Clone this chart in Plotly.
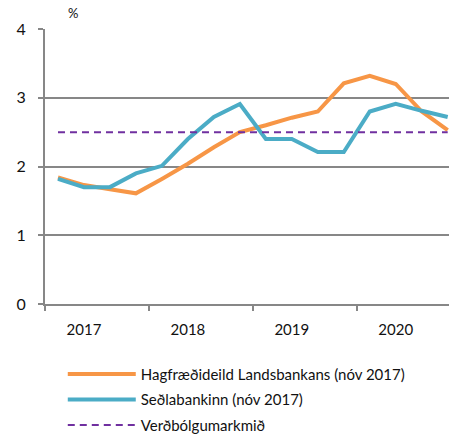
import plotly.graph_objects as go

quarters = list(range(16))  # 2017Q1 .. 2020Q4
year_labels = ["2017", "2018", "2019", "2020"]
year_label_pos = [1, 5, 9, 13]
year_bounds = [-0.5, 3.5, 7.5, 11.5]

landsbankinn = [1.84, 1.73, 1.67, 1.61, 1.82, 2.04, 2.28, 2.50,
                2.60, 2.71, 2.80, 3.21, 3.32, 3.20, 2.80, 2.53]
sedlabankinn = [1.82, 1.70, 1.70, 1.90, 2.01, 2.40, 2.72, 2.91,
                2.40, 2.40, 2.21, 2.21, 2.80, 2.91, 2.81, 2.72]
markmid = [2.5] * 16

names = ["Hagfræðideild Landsbankans (nóv 2017)", "Seðlabankinn (nóv 2017)", "Verðbólgumarkmið"]

FONT = "Lato"
TXT = "#111111"
GRID = "#878787"

fig = go.Figure()
fig.add_trace(go.Scatter(x=quarters, y=landsbankinn, mode="lines", name=names[0],
                         line=dict(color="#F79646", width=4), legendgroup="a"))
fig.add_trace(go.Scatter(x=quarters, y=sedlabankinn, mode="lines", name=names[1],
                         line=dict(color="#4BACC6", width=4), legendgroup="b"))
fig.add_trace(go.Scatter(x=quarters, y=markmid, mode="lines", name=names[2],
                         line=dict(color="#7030A0", width=2, dash="7px,5px"), legendgroup="c"))

fig.update_layout(
    width=449, height=434,
    margin=dict(l=45, r=0, t=29, b=130, autoexpand=False),
    paper_bgcolor="white", plot_bgcolor="white",
    font=dict(family=FONT, size=15, color=TXT),
    showlegend=True,
    legend=dict(x=0.044, xanchor="left", y=-0.195, yanchor="top",
                itemwidth=68, tracegroupgap=3, font=dict(size=15),
                bgcolor="rgba(0,0,0,0)"),
    annotations=[dict(text="%", x=0.069, y=1.058, xref="paper", yref="paper",
                      xanchor="center", yanchor="middle",
                      showarrow=False, font=dict(size=13, color=TXT))],
)
fig.update_xaxes(range=[-0.5, 15.05], tickvals=year_label_pos, ticktext=year_labels,
                 ticks="", showgrid=False, zeroline=False,
                 showline=True, linecolor=GRID, linewidth=2,
                 ticklabelstandoff=11,
                 minor=dict(tickvals=year_bounds, ticks="outside", ticklen=5,
                            tickcolor=GRID, tickwidth=2, showgrid=False))
fig.update_yaxes(range=[0, 4], tickvals=[0, 1, 2, 3, 4],
                 tickfont=dict(size=16),
                 showgrid=True, gridcolor=GRID, gridwidth=1.5, zeroline=False,
                 showline=True, linecolor=GRID, linewidth=2,
                 ticks="outside", ticklen=5, tickcolor=GRID, tickwidth=2,
                 ticklabelstandoff=9)

fig.write_html("out.html", config={"displayModeBar": False},
               post_script="document.body.style.margin='0';document.body.style.overflow='hidden';")
